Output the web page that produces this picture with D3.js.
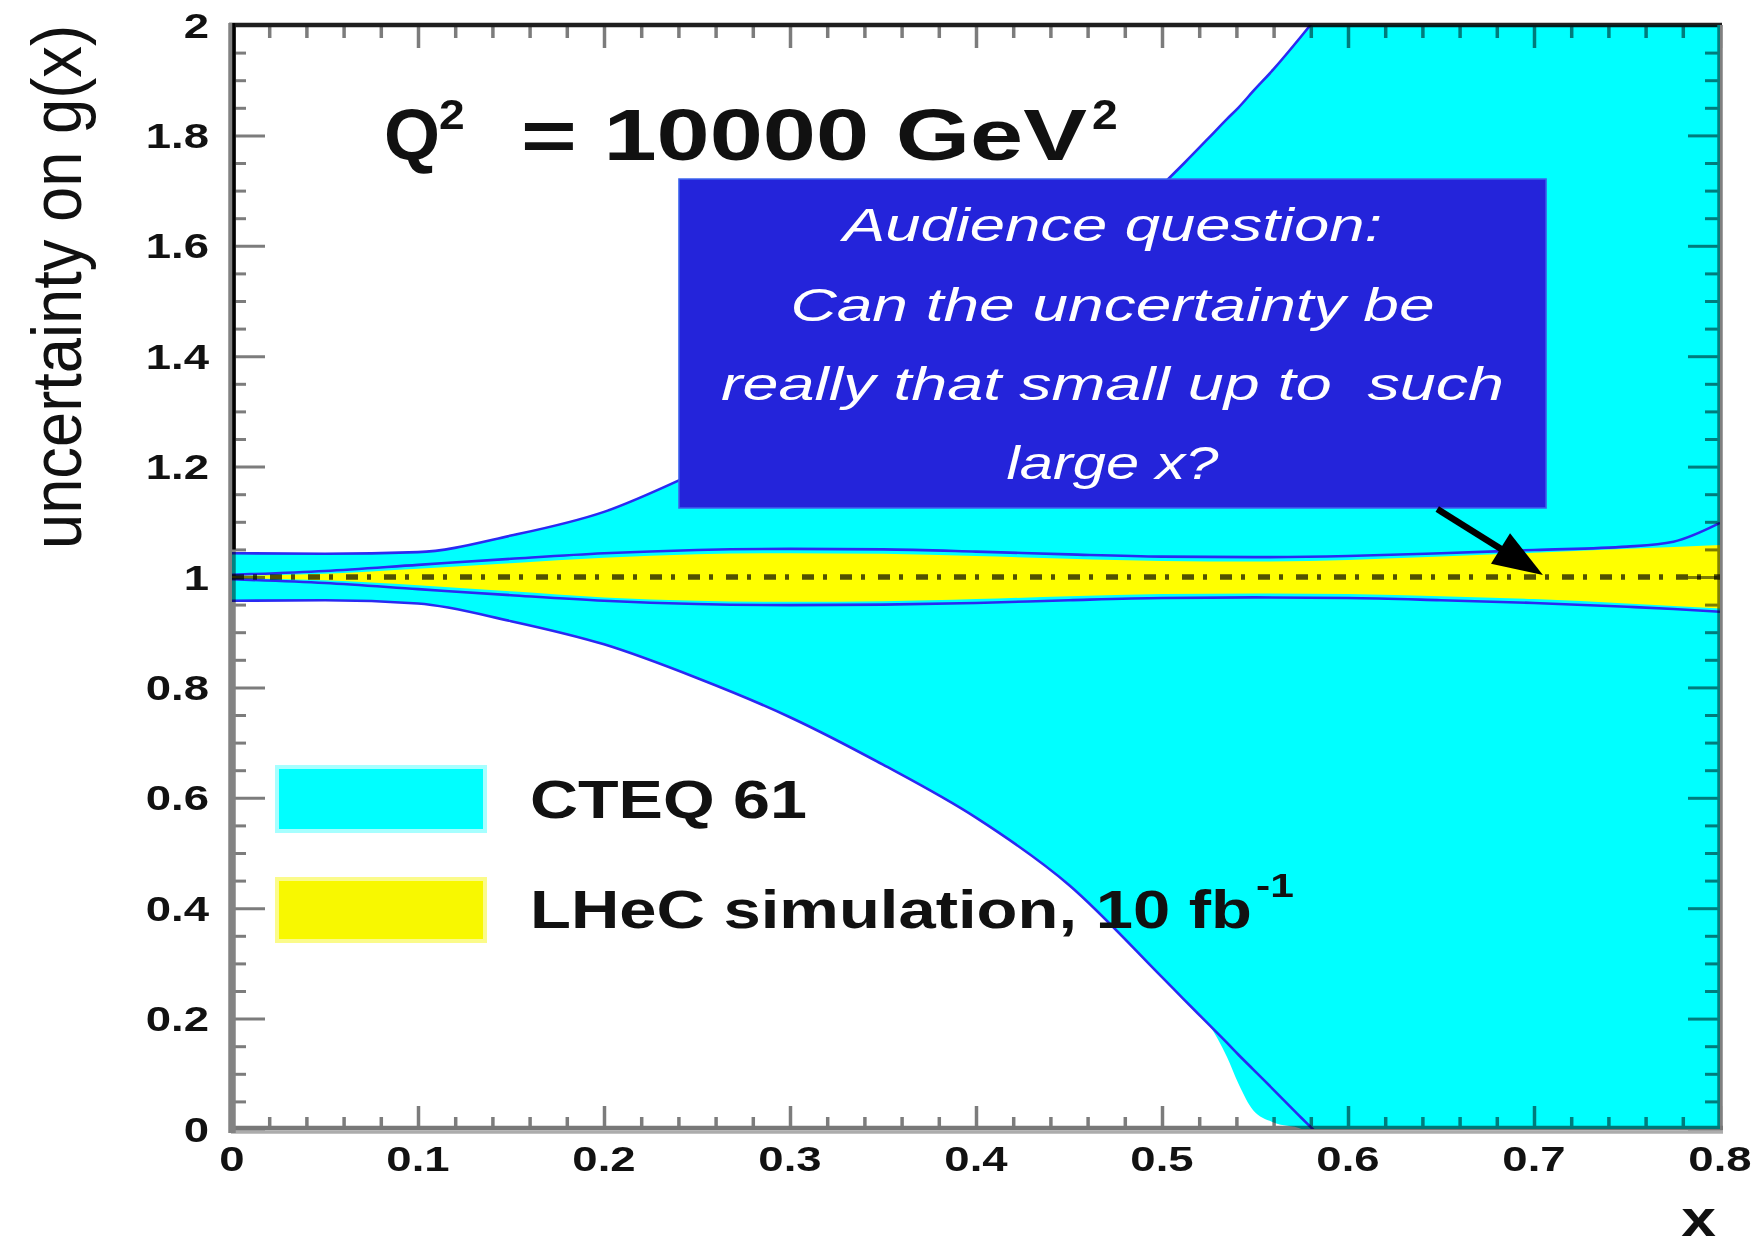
<!DOCTYPE html>
<html>
<head>
<meta charset="utf-8">
<script src="https://cdn.jsdelivr.net/npm/d3@7"></script>
<style>
  html, body { margin: 0; padding: 0; background: #ffffff; }
  svg { display: block; }
  text { font-family: "Liberation Sans", Arial, Helvetica, sans-serif; }
</style>
</head>
<body>
<svg id="chart" width="1757" height="1249"></svg>
<script>
// ---- CTEQ 6.1 uncertainty band on g(x) ----
const cteqX      = [0, 0.05, 0.1, 0.15, 0.2, 0.25, 0.3, 0.35, 0.4, 0.45, 0.5, 0.512, 0.525, 0.535, 0.541, 0.549, 0.56, 0.575, 0.581, 0.6, 0.65, 0.7, 0.75, 0.8];
const cteqHi     = [1.043, 1.042, 1.045, 1.075, 1.118, 1.19, 1.27, 1.35, 1.44, 1.56, 1.71, 1.75, 1.795, 1.83, 1.85, 1.88, 1.92, 1.98, 2.005, 2.08, 2.28, 2.48, 2.68, 2.88];
const cteqLo     = [0.957, 0.958, 0.952, 0.92, 0.878, 0.817, 0.746, 0.66, 0.564, 0.442, 0.275, 0.234, 0.19, 0.156, 0.135, 0.108, 0.071, 0.02, 0.0, -0.065, -0.25, -0.45, -0.65, -0.85];
// shaded fill edge, which runs below the contour near the x axis
const cteqFillLo = [0.957, 0.958, 0.952, 0.92, 0.878, 0.817, 0.746, 0.66, 0.564, 0.442, 0.275, 0.234, 0.19, 0.13, 0.083, 0.034, 0.012, 0.0, -0.02, -0.065, -0.25, -0.45, -0.65, -0.85];

// ---- LHeC simulated uncertainty band (10 fb^-1) ----
const lhecX  = [0, 0.05, 0.1, 0.15, 0.2, 0.25, 0.3, 0.35, 0.4, 0.45, 0.5, 0.55, 0.6, 0.65, 0.7, 0.75, 0.8];
const lhecHi = [1.002, 1.006, 1.015, 1.025, 1.035, 1.041, 1.043, 1.042, 1.038, 1.033, 1.029, 1.028, 1.031, 1.037, 1.044, 1.051, 1.058];
const lhecLo = [0.998, 0.994, 0.985, 0.974, 0.963, 0.957, 0.955, 0.956, 0.96, 0.965, 0.969, 0.970, 0.969, 0.965, 0.96, 0.952, 0.943];

// ---- contour lines just outside the LHeC band ----
const edgeX  = [0, 0.05, 0.1, 0.15, 0.2, 0.25, 0.3, 0.35, 0.4, 0.45, 0.5, 0.55, 0.6, 0.65, 0.7, 0.75, 0.775, 0.8];
const edgeHi = [1.004, 1.011, 1.022, 1.033, 1.043, 1.049, 1.051, 1.05, 1.046, 1.041, 1.037, 1.036, 1.038, 1.043, 1.049, 1.055, 1.064, 1.098];
const edgeLo = [0.996, 0.989, 0.978, 0.967, 0.957, 0.951, 0.949, 0.95, 0.953, 0.958, 0.962, 0.963, 0.962, 0.958, 0.953, 0.946, 0.942, 0.937];

// ---- reference line ----
const refLevel = 1;

// ---- axes ----
const xTicks = [0, 0.1, 0.2, 0.3, 0.4, 0.5, 0.6, 0.7, 0.8];
const xTickLabels = ["0", "0.1", "0.2", "0.3", "0.4", "0.5", "0.6", "0.7", "0.8"];
const yTicks = [0, 0.2, 0.4, 0.6, 0.8, 1, 1.2, 1.4, 1.6, 1.8, 2];
const yTickLabels = ["0", "0.2", "0.4", "0.6", "0.8", "1", "1.2", "1.4", "1.6", "1.8", "2"];
const xTitle = "x";
const yTitle = "uncertainty on g(x)";

// ---- legend and annotation text ----
const legendLabels = ["CTEQ 61", "LHeC simulation, 10 fb"];
const legendSup = "-1";
const titleMain = ["Q", "= 10000 GeV"];
const noteLines = ["Audience question:", "Can the uncertainty be", "really that small up to  such", "large x?"];
// callout box corners and arrow (data units)
const noteBox = { x0: 0.2403, x1: 0.7065, y0: 1.125, y1: 1.721 };
const arrowFrom = [0.648, 1.123];
const arrowTo = [0.7048, 1.0036];

// ---------------------------------------------------------------
const svg = d3.select("#chart");
const X0 = 232, X1 = 1720, Y0 = 1129, Y1 = 25;
const x = d3.scaleLinear().domain([0, 0.8]).range([X0, X1]);
const y = d3.scaleLinear().domain([0, 2]).range([Y0, Y1]);

const CYAN = "#00ffff", YELLOW = "#ffff00", EDGE = "#2a2af2";
// glyphs of the plot lettering are drawn wide
const WIDE = 1.3;
function widen(sel, k) {
  sel.each(function () {
    const w = this.getComputedTextLength();
    d3.select(this).attr("textLength", w * k).attr("lengthAdjust", "spacingAndGlyphs");
  });
}

svg.append("defs").append("clipPath").attr("id", "plotClip")
  .append("rect").attr("x", X0).attr("y", Y1).attr("width", X1 - X0).attr("height", Y0 - Y1);

const plot = svg.append("g").attr("clip-path", "url(#plotClip)");

const zip = (xs, a, b) => xs.map((v, i) => ({ x: v, a: a[i], b: b ? b[i] : null }));
const curve = d3.curveMonotoneX;

// CTEQ band fill
plot.append("path")
  .datum(zip(cteqX, cteqFillLo, cteqHi))
  .attr("fill", CYAN)
  .attr("d", d3.area().curve(curve).x(d => x(d.x)).y0(d => y(d.a)).y1(d => y(d.b)));

// CTEQ contours
const lineA = d3.line().curve(curve).x(d => x(d.x)).y(d => y(d.a));
[cteqHi, cteqLo].forEach(arr => {
  plot.append("path").datum(zip(cteqX, arr))
    .attr("fill", "none").attr("stroke", EDGE).attr("stroke-width", 2.6)
    .attr("d", lineA);
});

// contours around the LHeC band
[edgeHi, edgeLo].forEach(arr => {
  plot.append("path").datum(zip(edgeX, arr))
    .attr("fill", "none").attr("stroke", EDGE).attr("stroke-width", 2.6)
    .attr("d", lineA);
});

// LHeC band fill
plot.append("path")
  .datum(zip(lhecX, lhecLo, lhecHi))
  .attr("fill", YELLOW)
  .attr("d", d3.area().curve(curve).x(d => x(d.x)).y0(d => y(d.a)).y1(d => y(d.b)));

// dash-dotted reference line at 1
plot.append("line")
  .attr("x1", x(0)).attr("x2", x(0.8))
  .attr("y1", y(refLevel)).attr("y2", y(refLevel))
  .attr("stroke", "#000").attr("stroke-opacity", 0.68)
  .attr("stroke-width", 5.5)
  .attr("stroke-dasharray", "12,9,4,13");

// ---- axes (ticks point inwards, blended onto the bands) ----
const axes = svg.append("g").style("mix-blend-mode", "multiply");
const TICK = "#7c7c7c";

const xMinor = d3.range(0, 0.8001, 0.02).filter(v => Math.abs(v * 10 - Math.round(v * 10)) > 1e-6);
const yMinor = d3.range(0, 2.0001, 0.05).filter(v => Math.abs(v * 5 - Math.round(v * 5)) > 1e-6);

function styleTicks(g, w) {
  g.select(".domain").remove();
  g.selectAll(".tick line").attr("stroke", TICK).attr("stroke-width", w);
}

// bottom
axes.append("g").attr("transform", `translate(0,${Y0})`)
  .call(d3.axisBottom(x).tickValues(xTicks).tickSize(-23).tickSizeOuter(0).tickFormat(""))
  .call(g => styleTicks(g, 3.5));
axes.append("g").attr("transform", `translate(0,${Y0})`)
  .call(d3.axisBottom(x).tickValues(xMinor).tickSize(-12).tickSizeOuter(0).tickFormat(""))
  .call(g => styleTicks(g, 3.5));
// top
axes.append("g").attr("transform", `translate(0,${Y1})`)
  .call(d3.axisTop(x).tickValues(xTicks).tickSize(-23).tickSizeOuter(0).tickFormat(""))
  .call(g => styleTicks(g, 3.5));
axes.append("g").attr("transform", `translate(0,${Y1})`)
  .call(d3.axisTop(x).tickValues(xMinor).tickSize(-13).tickSizeOuter(0).tickFormat(""))
  .call(g => styleTicks(g, 3.5));
// left
axes.append("g").attr("transform", `translate(${X0},0)`)
  .call(d3.axisLeft(y).tickValues(yTicks).tickSize(-33).tickSizeOuter(0).tickFormat(""))
  .call(g => styleTicks(g, 3));
axes.append("g").attr("transform", `translate(${X0},0)`)
  .call(d3.axisLeft(y).tickValues(yMinor).tickSize(-14).tickSizeOuter(0).tickFormat(""))
  .call(g => styleTicks(g, 3));
// right
axes.append("g").attr("transform", `translate(${X1},0)`)
  .call(d3.axisRight(y).tickValues(yTicks).tickSize(-32).tickSizeOuter(0).tickFormat(""))
  .call(g => styleTicks(g, 3));
axes.append("g").attr("transform", `translate(${X1},0)`)
  .call(d3.axisRight(y).tickValues(yMinor).tickSize(-15).tickSizeOuter(0).tickFormat(""))
  .call(g => styleTicks(g, 3));

// frame lines
axes.append("line").attr("x1", X0 - 3).attr("x2", X1 + 2).attr("y1", Y1).attr("y2", Y1)
  .attr("stroke", "#1e1e1e").attr("stroke-width", 4.5);
axes.append("line").attr("x1", X1).attr("x2", X1).attr("y1", Y1).attr("y2", Y0 + 3)
  .attr("stroke", "#808080").attr("stroke-width", 5.5);
axes.append("line").attr("x1", X0 - 1).attr("x2", X1 + 3).attr("y1", Y0 - 1).attr("y2", Y0 - 1)
  .attr("stroke", "#787878").attr("stroke-width", 4.5);
axes.append("line").attr("x1", X0 - 1).attr("x2", X1 + 3).attr("y1", Y0 + 3).attr("y2", Y0 + 3)
  .attr("stroke", "#acacac").attr("stroke-width", 3.5);
axes.append("line").attr("x1", X0).attr("x2", X0).attr("y1", Y1 - 2).attr("y2", Y0 + 4)
  .attr("stroke", "#838383").attr("stroke-width", 7.5);
axes.append("line").attr("x1", X0 + 2).attr("x2", X0 + 2).attr("y1", Y1 - 2).attr("y2", y(1.05))
  .attr("stroke", "#000").attr("stroke-width", 3.5);

// tick labels
svg.append("g").selectAll("text").data(xTicks).join("text")
  .attr("x", d => x(d)).attr("y", 1171)
  .attr("text-anchor", "middle")
  .attr("font-size", 35).attr("font-weight", "bold").attr("fill", "#111")
  .text((d, i) => xTickLabels[i])
  .call(widen, WIDE);

svg.append("g").selectAll("text").data(yTicks).join("text")
  .attr("x", 209).attr("y", d => y(d) + 12.5)
  .attr("text-anchor", "end")
  .attr("font-size", 35).attr("font-weight", "bold").attr("fill", "#111")
  .text((d, i) => yTickLabels[i])
  .call(widen, WIDE);

// axis titles
svg.append("text")
  .attr("x", 1716).attr("y", 1236).attr("text-anchor", "end")
  .attr("font-size", 52).attr("font-weight", "bold").attr("fill", "#111")
  .text(xTitle)
  .call(widen, 1.2);

// rotated y title, condensed along its baseline
const yTitleEl = svg.append("text")
  .attr("font-size", 70).attr("fill", "#111")
  .text(yTitle);
const yTitleLen = yTitleEl.node().getComputedTextLength();
yTitleEl.attr("transform", `translate(81,549) rotate(-90) scale(${524 / yTitleLen},1)`);

// ---- Q^2 label ----
const title = svg.append("g").attr("fill", "#111").attr("font-weight", "bold");
title.append("text").attr("x", 384).attr("y", 160).attr("font-size", 72).text(titleMain[0]);
title.append("text").attr("x", 439).attr("y", 129).attr("font-size", 42).text("2").call(widen, 1.1);
title.append("text").attr("x", 521).attr("y", 160).attr("font-size", 72)
  .attr("textLength", 566).attr("lengthAdjust", "spacingAndGlyphs").text(titleMain[1]);
title.append("text").attr("x", 1092).attr("y", 129).attr("font-size", 42).text("2").call(widen, 1.1);

// ---- legend ----
const legend = svg.append("g");
legend.append("rect").attr("x", 277).attr("y", 767).attr("width", 208).attr("height", 64)
  .attr("fill", CYAN).attr("stroke", "#a6ffff").attr("stroke-width", 4);
legend.append("rect").attr("x", 277).attr("y", 879).attr("width", 208).attr("height", 62)
  .attr("fill", "#f8f800").attr("stroke", "#fbfb8a").attr("stroke-width", 4);
legend.append("text").attr("x", 530).attr("y", 818)
  .attr("font-size", 54).attr("font-weight", "bold").attr("fill", "#111")
  .attr("textLength", 277).attr("lengthAdjust", "spacingAndGlyphs").text(legendLabels[0]);
legend.append("text").attr("x", 530).attr("y", 928)
  .attr("font-size", 54).attr("font-weight", "bold").attr("fill", "#111")
  .attr("textLength", 722).attr("lengthAdjust", "spacingAndGlyphs").text(legendLabels[1]);
legend.append("text").attr("x", 1256).attr("y", 897)
  .attr("font-size", 34).attr("font-weight", "bold").attr("fill", "#111")
  .text(legendSup).call(widen, 1.25);

// ---- callout ----
const bx0 = x(noteBox.x0), bx1 = x(noteBox.x1), by0 = y(noteBox.y1), by1 = y(noteBox.y0);
svg.append("rect")
  .attr("x", bx0).attr("y", by0).attr("width", bx1 - bx0).attr("height", by1 - by0)
  .attr("fill", "#2424da").attr("stroke", "#3c64ee").attr("stroke-width", 1.5);

const noteWidths = [539, 644, 783, 212];
const noteBase = [241, 321, 400, 479];
const cx = (bx0 + bx1) / 2;
svg.append("g").selectAll("text").data(noteLines).join("text")
  .attr("x", (d, i) => cx - noteWidths[i] / 2)
  .attr("y", (d, i) => noteBase[i])
  .attr("font-family", "'Open Sans', 'DejaVu Sans', sans-serif")
  .attr("font-style", "italic")
  .attr("font-size", 46)
  .attr("fill", "#ffffff")
  .style("white-space", "pre")
  .attr("textLength", (d, i) => noteWidths[i])
  .attr("lengthAdjust", "spacingAndGlyphs")
  .text(d => d);

// arrow from the callout to the reference line
const ax0 = x(arrowFrom[0]), ay0 = y(arrowFrom[1]);
const ax1 = x(arrowTo[0]), ay1 = y(arrowTo[1]);
const len = Math.hypot(ax1 - ax0, ay1 - ay0);
const ux = (ax1 - ax0) / len, uy = (ay1 - ay0) / len;
const headL = 50, headW = 18;
const hbx = ax1 - ux * headL, hby = ay1 - uy * headL;
svg.append("line")
  .attr("x1", ax0).attr("y1", ay0).attr("x2", hbx + ux * 4).attr("y2", hby + uy * 4)
  .attr("stroke", "#000").attr("stroke-width", 6.5);
svg.append("path")
  .attr("d", `M${ax1},${ay1}L${hbx - uy * headW},${hby + ux * headW}L${hbx + uy * headW},${hby - ux * headW}Z`)
  .attr("fill", "#000");
</script>
</body>
</html>
